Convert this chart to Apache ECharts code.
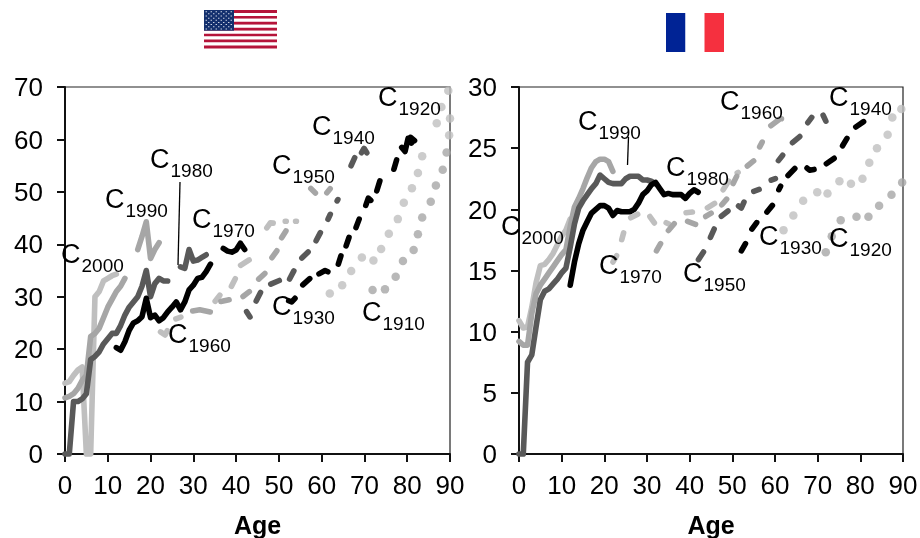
<!DOCTYPE html>
<html><head><meta charset="utf-8">
<script src="https://cdn.jsdelivr.net/npm/echarts@6/dist/echarts.min.js"></script>
<style>html,body{margin:0;padding:0;background:#fff}#c{width:920px;height:538px}</style>
</head><body><div id="c"></div>
<script>
// ---- data: [age, value]; null = gap in the line ----
const seq=(s,v)=>v.map((y,i)=>y===null?null:[s+i,y]);
// United States
const usC2000=seq(0,[13.5,13.8,15,16,16.6,0,0,30,31,33,33.5,34,34.3]);
const usC1990=seq(0,[10.7,11,11.5,12.5,14,15,22.4,23,24,26,28,29.5,31,32,33.5,null,null,39,41.5,44.3,37.3,39,40.3]);
const usC1980=seq(0,[0,0,10,10,10.5,11.5,18,18.6,19.5,21,22,23,23,24.5,26.5,28,29,30,32,35,30,32.5,33.5,33,33,null,null,35.7,35.4,39,36.8,37,37.5,38]);
const usC1970=seq(12,[20.3,19.8,21.4,23.6,25,25.4,26.2,29.7,26,26.5,25.4,26,27.1,28,29,27.5,29,31.3,32.2,33.5,33.7,34.8,36.2,null,null,39.2,38.7,38.5,38.9,40.2,39]);
const usC1960=[[21.8,23.6],[23.4,22.7],[24.2,24],null,[25.3,25.6],[27.7,26.3],null,[34.7,28.7],[36.6,30.7],null,[38.6,31.5],[40.1,33.9],null,[40.5,35.7],[43.6,37.3],null,[46.8,42.7],[48,44.1],[49.1,44],null,[51,44.4],[52.2,44.4],null,[53.9,44.4],[54.1,44.4]];
const usC1950=[[29.2,27.2],[31.5,27.5],[34.6,27],null,[35.8,29],[39,29.5],null,[41.1,29.7],[43.6,31.3],null,[44.8,33],[47.2,34.8],null,[48,37],[49.9,39.2],null,[50.3,40.8],[52,43],null,[57,51],[59,49.4],null,[60.8,49.4],[62.4,51]];
const usC1940=[[42.1,27.6],[43.6,25.7],null,[44.4,28.7],[46,31.3],null,[47.5,32.2],[50.7,33.3],null,[52.2,32.9],[53.8,35.4],null,[54.9,37],[57.3,38.9],null,[58.4,40.2],[60,42.7],null,[61.2,44.3],[62.3,46.2],null,[63.3,47.8],[64.1,49],null,[66.6,54.5],[68,57],null,[69,57],[69.9,58.3],[70.9,57]];
const usC1930=[[51.8,29.4],[53,29],[54.2,30.1],null,[55.1,31.9],[57.7,33.8],null,[58.8,34.1],[60.8,35],[61.9,34.6],null,[63.7,35.7],[64.7,38.3],null,[65.5,39.2],[66.6,41.8],null,[67.8,42.7],[69,45.3],null,[70.1,46.9],[70.9,48.8],[71.9,48.1],null,[72.7,49.7],[73.8,52.6],null,[76.7,53.8],[77.7,56.6],null,[78.3,58.9],[79.5,57.7],[80.2,60.2],[81,59.3],[80.8,60.4],[82.2,59.4]];
const usC1920=[[61.9,30.6],[64.8,32.2],[66.9,34.9],[69.4,37.5],[72.1,36.9],[73.9,39.1],[75.7,42],[77.8,44.8],[79.2,47.9],[81.1,50.7],[82.5,53.6],[83.5,56.8],[86.9,63.1],[88,66.2],[89.6,69.3],[90,64],[89.8,60.8]];
const usC1910=[[71.9,31.3],[74.8,31.4],[77.3,33.8],[79,36.8],[81.5,38.9],[82.5,41.9],[83.5,45.1],[85.5,48.1],[86.7,51.2],[88.3,54.2],[89.2,57.5]];
// France
const frC2000=seq(0,[10.9,10.3,10.4,12,14,15.4,15.5,15.9,16.4,17.1,17.8,18.3,19.2]);
const frC1990=seq(0,[9.2,8.9,8.9,11.5,13.1,13.8,14.3,14.8,15.3,15.8,16.3,16.7,18.6,20.2,20.9,21.7,22.6,23.4,23.9,24.1,24.1,23.9,23.1]);
const frC1980=seq(0,[0,0,7.5,8.1,10.4,12.6,13.3,13.5,13.9,14.3,14.8,15.2,16.9,18.8,20.1,20.7,21.2,21.7,22.1,22.8,22.5,22.2,22.1,22.1,22.1,22.5,22.7,22.7,22.7,22.4,22.4,22.3,22.1]);
const frC1970=seq(12,[13.8,15.7,17.2,18.3,19,19.7,20,20.3,20.3,20.1,19.5,19.9,19.8,19.8,19.8,20,20.5,21.2,21.5,22,22.2,21.7,21.2,21.3,21.2,21.2,21.2,20.9,21.3,21.6,21.4]);
const frD1970=[[21.7,15.5],[23.2,16.4],null,[23.9,17.3],[24.7,18.3],null,[25.6,19.2],[28.4,19.7],null,[30.3,19.6],[32.1,18.7],null,[33.9,19],[35.7,18.7],null,[38.5,19.7],[41.3,19.8],null,[43.6,20],[46.4,20.6],null,[47.5,21.4],[49.5,22.5],null,[50.7,22.9],[51.8,23.1]];
const frD1960=[[31.9,16.4],[33.5,17.4],null,[34.6,18.1],[36.8,19],null,[38.9,19.1],[42,18.7],null,[43.2,19.3],[45.6,19.8],null,[47.1,20.2],[49.1,21],null,[49.9,21.9],[51.3,22.9],null,[53,23.4],[55.5,24.1],null,[56.1,24.9],[57.3,25.7],null,[58.5,26.7],[61.2,27.4],[61.6,27.4]];
const frD1950=[[41.7,15.7],[43.6,16.7],null,[44.6,17.5],[46,18.6],null,[46.9,19.3],[49.5,20],null,[51,20.4],[52.1,20.1],[53,20.8],null,[54.4,21.4],[56.9,21.7],null,[58.5,22.3],[60.7,22.6],null,[60.4,23.8],[62.2,24.6],null,[63.6,25.3],[66.3,26.1],null,[67.3,26.9],[69,27.7],null,[71,27.9],[72.2,27]];
const frD1940=[[51.8,16.4],[53.4,17.4],null,[54.2,18.2],[56.1,19.1],null,[57.7,19.6],[59.8,20.5],null,[60.6,21.4],[61.6,22.1],null,[62.6,22.6],[65.1,23.5],null,[67.1,23.5],[68.1,23.2],[69.8,23.3],null,[71.5,23.6],[74.4,24.3],null,[75.5,25],[77.2,26],null,[78.4,26.6],[81.3,27.3]];
const frC1930=[[62,18.3],[64.3,19.5],[66.6,20.7],[69.9,21.4],[72.3,21.3],[75.1,22.3],[77.8,22.1],[80.5,22.5],[82.1,23.8],[83.9,25],[86.4,26.1],[87.5,27.5],[89.6,28.2]];
const frC1920=[[71.9,16.5],[73.3,17.8],[75.4,19.1],[79.1,19.4],[81.9,19.4],[84.4,20.3],[87.3,21.2],[89.8,22.2]];
// cohort labels: name, C left, C baseline
const usLabels=[['2000',61,265],['1990',105,210],['1980',150,170],['1970',192,230],['1960',168,345],['1950',272,176],['1940',312,137],['1930',272,317],['1920',378,108],['1910',362,323]];
const frLabels=[['2000',501,237],['1990',578,132],['1980',666,178],['1970',599,276],['1960',720,112],['1950',683,284],['1940',829,108],['1930',759,247],['1920',829,249]];
const ageTicks=10, usMax=70, usStep=10, frMax=30, frStep=5;

const FONT='"Liberation Sans", Arial, sans-serif';
const LIGHT='#bfbfbf', MID='#a6a6a6', DARK='#595959', BLACK='#000';
const gaps=a=>a.map(p=>p===null?[null,null]:p);
// The dash ends above were read including the round line caps, so each dash is
// pulled back by one cap radius before drawing. sx, sy: pixels per data unit of the panel.
const CAP=2.8;
const trimDash=(a,sx,sy)=>{
  const out=[];let run=[];
  const flush=()=>{
    if(run.length){
      const r=run.map(p=>p.slice()), n=r.length;
      const move=(i,j)=>{const dx=(run[j][0]-run[i][0])*sx,dy=(run[j][1]-run[i][1])*sy,d=Math.hypot(dx,dy);
        const s=Math.min(CAP,Math.max(0,(d-1)/2));
        return [run[i][0]+(run[j][0]-run[i][0])*s/d,run[i][1]+(run[j][1]-run[i][1])*s/d];};
      r[0]=move(0,1);r[n-1]=move(n-1,n-2);
      out.push(...r);
    }
    run=[];
  };
  a.forEach(p=>{if(p===null){flush();out.push(null);}else run.push(p);});
  flush();return out;
};
const line=(i,d,c,w)=>({type:'line',xAxisIndex:i,yAxisIndex:i,data:gaps(d),showSymbol:false,clip:false,silent:true,
  lineStyle:{color:c,width:w,cap:'round',join:'round'},connectNulls:false,animation:false});
const dash=(i,d,c)=>line(i,i?trimDash(d,4.267,12.23):trimDash(d,4.278,5.243),c,5.6);
const dots=(i,d,c)=>({type:'scatter',xAxisIndex:i,yAxisIndex:i,data:d,symbol:'circle',symbolSize:8.5,clip:false,silent:true,
  itemStyle:{color:c},animation:false});
const xAxis=i=>({type:'value',gridIndex:i,min:0,max:90,interval:ageTicks,name:'Age',nameLocation:'middle',nameGap:61,
  nameTextStyle:{fontFamily:FONT,fontSize:25,fontWeight:'bold',color:'#000'},
  axisLine:{onZero:false,lineStyle:{color:'#111',width:2}},axisTick:{length:8,lineStyle:{color:'#111',width:2}},
  axisLabel:{margin:20,fontFamily:FONT,fontSize:26,color:'#000',hideOverlap:false,showMinLabel:true,showMaxLabel:true},splitLine:{show:false}});
const yAxis=(i,max,step)=>({type:'value',gridIndex:i,min:0,max:max,interval:step,
  axisLine:{onZero:false,lineStyle:{color:'#111',width:2}},axisTick:{show:true,length:8,lineStyle:{color:'#111',width:2}},
  axisLabel:{margin:22,verticalAlign:'top',lineHeight:4,fontFamily:FONT,fontSize:26,color:'#000',showMinLabel:true,showMaxLabel:true},splitLine:{show:false}});

const graphics=[];
const txt=(t,x,y,s)=>graphics.push({type:'text',silent:true,z:100,style:{text:t,x:x,y:y-0.35*s,font:s+'px '+FONT,fill:'#000',textAlign:'left',textVerticalAlign:'middle'}});
usLabels.concat(frLabels).forEach(l=>{txt('C',l[1],l[2],27);txt(l[0],l[1]+20.5,l[2]+8,19);});
const seg=(x1,y1,x2,y2)=>graphics.push({type:'line',silent:true,z:100,shape:{x1,y1,x2,y2},style:{stroke:'#000',lineWidth:1.3}});
seg(180,182,178,265); seg(628.5,137,627.5,165);
const rect=(x,y,w,h,c)=>graphics.push({type:'rect',silent:true,shape:{x,y,width:w,height:h},style:{fill:c}});
// US flag
const fx=204,fy=10,fw=73,fh=38.4,sh=fh/13;
for(let i=0;i<13;i++)rect(fx,fy+i*sh,fw,sh,i%2?'#ffffff':'#b5143a');
rect(fx,fy,30,7*sh,'#14306e');
for(let r=0;r<9;r++){const n=r%2?5:6;for(let k=0;k<n;k++)rect(fx+1.6+k*5+(r%2?2.5:0),fy+1.2+r*2.15,1.3,1,'#dfe4ef');}
// French flag
rect(666,13,19.5,39,'#002395');rect(685.5,13,19,39,'#ffffff');rect(704.5,13,19.5,39,'#f5303f');

const chart=echarts.init(document.getElementById('c'),null,{renderer:'canvas'});
chart.setOption({animation:false,backgroundColor:'#fff',
  grid:[{left:65,top:87,width:385,height:367,outerBoundsMode:'none',show:true,borderColor:'#222',borderWidth:1.2,backgroundColor:'transparent'},
        {left:519,top:87,width:384,height:367,outerBoundsMode:'none',show:true,borderColor:'#222',borderWidth:1.2,backgroundColor:'transparent'}],
  xAxis:[xAxis(0),xAxis(1)],
  yAxis:[yAxis(0,usMax,usStep),yAxis(1,frMax,frStep)],
  series:[line(0,usC2000,LIGHT,5.6),line(0,usC1990,MID,5.6),line(0,usC1980,DARK,5.6),line(0,usC1970,BLACK,5.6),
    dash(0,usC1960,LIGHT),dash(0,usC1950,MID),dash(0,usC1940,DARK),dash(0,usC1930,BLACK),
    dots(0,usC1920,LIGHT),dots(0,usC1910,MID),
    line(1,frC2000,LIGHT,5.6),line(1,frC1990,MID,5.6),line(1,frC1980,DARK,5.6),line(1,frC1970,BLACK,5.6),
    dash(1,frD1970,LIGHT),dash(1,frD1960,MID),dash(1,frD1950,DARK),dash(1,frD1940,BLACK),
    dots(1,frC1930,LIGHT),dots(1,frC1920,MID)],
  graphic:{elements:graphics}
});
</script></body></html>
